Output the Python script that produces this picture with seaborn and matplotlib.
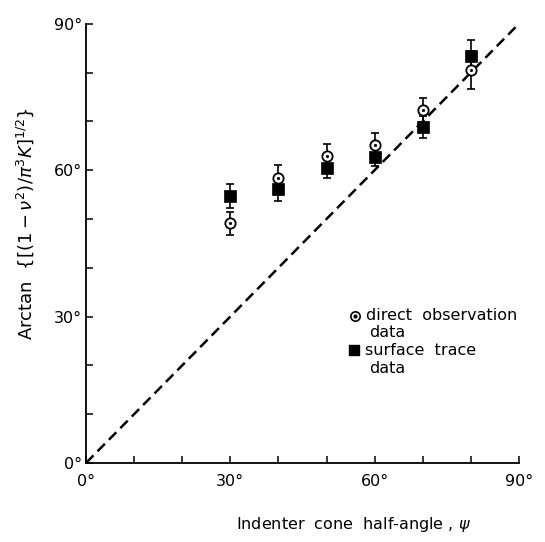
import matplotlib
matplotlib.use("Agg")
import matplotlib.pyplot as plt
import seaborn as sns

# values (degrees)
cone_angle = [30, 40, 50, 60, 70, 80]
direct_obs = [49.1, 58.3, 63.0, 65.1, 72.4, 80.6]
direct_err = [2.3, 2.8, 2.4, 2.6, 2.5, 3.9]
surface_trace = [54.7, 56.1, 60.4, 62.8, 68.9, 83.4]
surface_err = [2.4, 2.4, 2.1, 1.9, 2.2, 3.2]
diag = [0, 90]
tick_vals = list(range(0, 100, 10))
tick_labels = ["0°", "", "", "30°", "", "", "60°", "", "", "90°"]

sns.set_style("ticks")
plt.rcParams["font.family"] = ["DejaVu Sans"]
plt.rcParams["text.color"] = "black"
plt.rcParams["axes.labelcolor"] = "black"

fig = plt.figure(figsize=(5.45, 5.42), dpi=100)
ax = fig.add_axes([0.158, 0.146, 0.794, 0.81])

# 1:1 line
sns.lineplot(x=diag, y=diag, ax=ax, color="black", lw=1.8,
             linestyle=(0, (4.2, 2.3)))

# error bars
ax.errorbar(cone_angle, surface_trace, yerr=surface_err, fmt="none",
            ecolor="black", elinewidth=1.2, capsize=3, capthick=1.2, zorder=3)
ax.errorbar(cone_angle, direct_obs, yerr=direct_err, fmt="none",
            ecolor="black", elinewidth=1.2, capsize=3, capthick=1.2, zorder=3)

# markers
sns.scatterplot(x=cone_angle, y=surface_trace, ax=ax, marker="s", s=65,
                color="black", edgecolor="black", linewidth=0.5, zorder=4)
sns.scatterplot(x=cone_angle, y=direct_obs, ax=ax, marker="o", s=55,
                facecolor="white", edgecolor="black", linewidth=1.3, zorder=5)
sns.scatterplot(x=cone_angle, y=direct_obs, ax=ax, marker="o", s=5,
                color="black", edgecolor="black", linewidth=0, zorder=6)

ax.set_xlim(0, 90)
ax.set_ylim(0, 90)
ax.set_xticks(tick_vals)
ax.set_xticklabels(tick_labels, fontsize=11.5)
ax.set_yticks(tick_vals)
ax.set_yticklabels(tick_labels, fontsize=11.5)
ax.tick_params(axis="x", direction="in", length=5, width=1.1, pad=8,
               colors="black")
ax.tick_params(axis="y", direction="in", length=5, width=1.1, pad=3,
               colors="black")
sns.despine(ax=ax)
for s in ["left", "bottom"]:
    ax.spines[s].set_linewidth(1.3)
    ax.spines[s].set_color("black")

ax.set_xlabel(r"Indenter  cone  half-angle , $\psi$", fontsize=11.5,
              va="center")
ax.xaxis.set_label_coords(0.617, -0.141)
ax.set_ylabel(r"Arctan  $\{[(1-\nu^2)/\pi^3K]^{1/2}\}$", fontsize=13,
              va="center")
ax.yaxis.set_label_coords(-0.14, 0.545)

# legend drawn by hand
ax.scatter([0.621], [0.335], transform=ax.transAxes, marker="o", s=45,
           facecolor="white", edgecolor="black", linewidth=1.2, clip_on=False)
ax.scatter([0.621], [0.335], transform=ax.transAxes, marker="o", s=4,
           color="black", clip_on=False)
ax.scatter([0.618], [0.257], transform=ax.transAxes, marker="s", s=55,
           color="black", clip_on=False)
ax.text(0.647, 0.335, "direct  observation", transform=ax.transAxes,
        va="center", ha="left", fontsize=11.5)
ax.text(0.653, 0.298, "data", transform=ax.transAxes,
        va="center", ha="left", fontsize=11.5)
ax.text(0.645, 0.257, "surface  trace", transform=ax.transAxes,
        va="center", ha="left", fontsize=11.5)
ax.text(0.653, 0.216, "data", transform=ax.transAxes,
        va="center", ha="left", fontsize=11.5)

fig.savefig("out.png", dpi=100)
